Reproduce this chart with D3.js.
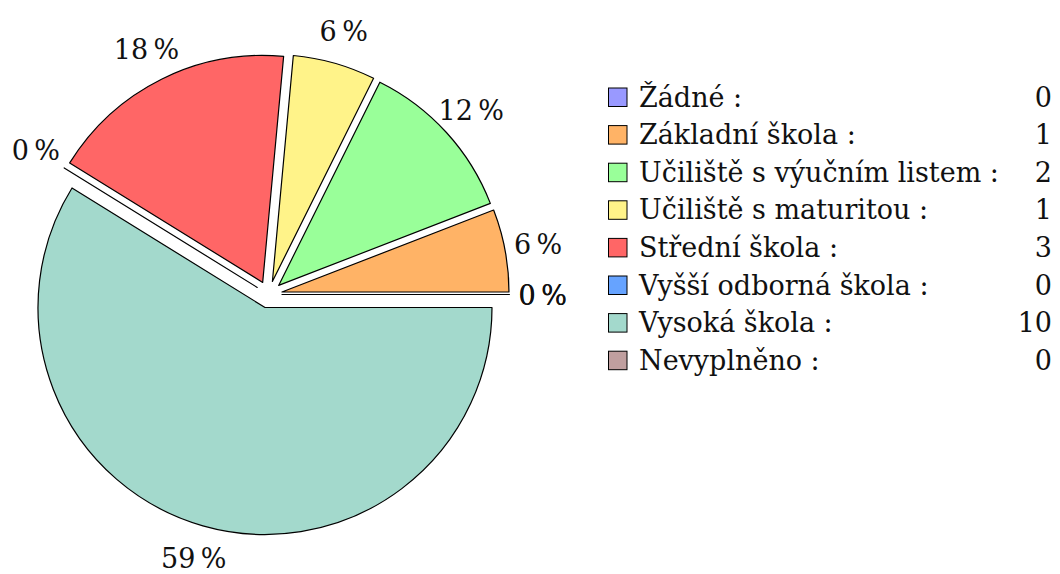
<!DOCTYPE html>
<html>
<head>
<meta charset="utf-8">
<script src="https://cdn.jsdelivr.net/npm/d3@7"></script>
<style>
  body { margin: 0; background: #fff; }
  svg { display: block; }
</style>
</head>
<body>
<svg id="chart" width="1060" height="574"></svg>
<script>
// Education levels and respondent counts
const categories = [
  "Žádné",
  "Základní škola",
  "Učiliště s výučním listem",
  "Učiliště s maturitou",
  "Střední škola",
  "Vyšší odborná škola",
  "Vysoká škola",
  "Nevyplněno"
];
const counts = [0, 1, 2, 1, 3, 0, 10, 0];
const colors = ["#9999ff", "#ffb366", "#99ff99", "#fff389", "#ff6666", "#66a3ff", "#a3d9cc", "#c09f9f"];

const svg = d3.select("#chart");
const FONT = "'DejaVu Serif', serif";

// Pie geometry
const cx = 268.7, cy = 294.5, radius = 227, explode = 13.5, labelDist = 274;
const fontSize = 27, stretch = 1.0;

const total = d3.sum(counts);
// Counter-clockwise from the 3 o'clock position
const pie = d3.pie().sort(null)
  .startAngle(Math.PI / 2)
  .endAngle(Math.PI / 2 - 2 * Math.PI);
const arcs = pie(counts);
const arc = d3.arc().innerRadius(0).outerRadius(radius);
const mid = d => (d.startAngle + d.endAngle) / 2;
const dir = a => [Math.sin(a), -Math.cos(a)];

const pieG = svg.append("g").attr("transform", `translate(${cx},${cy})`);

pieG.selectAll("path.slice").data(arcs).join("path")
  .attr("class", "slice")
  .attr("transform", d => {
    const [ux, uy] = dir(mid(d));
    return `translate(${ux * explode},${uy * explode})`;
  })
  .attr("d", arc)
  .attr("fill", (d, i) => colors[i])
  .attr("stroke", "#000")
  .attr("stroke-width", 1.2)
  .attr("stroke-linejoin", "round");

// Percentage labels outside each slice
pieG.selectAll("g.pct").data(arcs).join("g")
  .attr("class", "pct")
  .attr("transform", d => {
    const [ux, uy] = dir(mid(d));
    return `translate(${ux * labelDist},${uy * labelDist + 10}) scale(${stretch},1)`;
  })
  .append("text")
  .attr("text-anchor", "middle")
  .attr("font-family", FONT)
  .attr("font-size", fontSize)
  .attr("fill", "#111")
  .text(d => Math.round(d.value / total * 100) + "\u2009%");

// Legend
const rowY = d3.scaleLinear().domain([0, categories.length - 1]).range([106.5, 106.5 + 7 * 37.6]);
const box = 18.5, boxX = 608.5, textX = 639, valueX = 1052;

const rows = svg.append("g").selectAll("g.row").data(categories).join("g")
  .attr("class", "row");

rows.append("rect")
  .attr("x", boxX)
  .attr("y", (d, i) => rowY(i) - box)
  .attr("width", box)
  .attr("height", box)
  .attr("fill", (d, i) => colors[i])
  .attr("stroke", "#000")
  .attr("stroke-width", 1);

rows.append("g")
  .attr("transform", (d, i) => `translate(${textX},${rowY(i)}) scale(${stretch},1)`)
  .append("text")
  .attr("font-family", FONT)
  .attr("font-size", fontSize)
  .attr("fill", "#111")
  .text(d => d + " :");

rows.append("g")
  .attr("transform", (d, i) => `translate(${valueX},${rowY(i)}) scale(${stretch},1)`)
  .append("text")
  .attr("text-anchor", "end")
  .attr("font-family", FONT)
  .attr("font-size", fontSize)
  .attr("fill", "#111")
  .text((d, i) => counts[i]);
</script>
</body>
</html>
